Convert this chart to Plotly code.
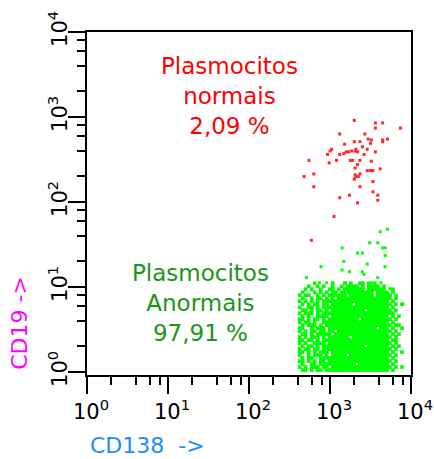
import plotly.graph_objects as go

# ---------------- data (log10 fluorescence) ----------------
# Normal plasma cells (red), CD138 vs CD19, as log10 intensities
red_cd138_log = [3.30, 3.56, 3.65, 3.56, 3.87, 3.12, 3.43, 3.47, 3.51, 3.18, 3.30, 3.37,
                 3.65, 3.71, 3.65, 3.50, 3.02, 3.00, 2.97, 3.20, 3.23, 3.31, 3.34, 3.46,
                 3.42, 3.12, 3.56, 2.74, 3.08, 3.25, 3.28, 3.37, 3.51, 2.99, 3.34, 3.31,
                 3.46, 3.53, 3.62, 2.80, 2.68, 3.37, 3.32, 3.35, 3.30, 3.53, 2.80, 3.37,
                 3.53, 3.59, 3.24, 3.12, 3.59, 3.34, 3.05, 2.77, 3.27, 3.32, 3.17, 3.40,
                 3.50, 3.31]
red_cd19_log = [2.96, 2.93, 2.93, 2.87, 2.87, 2.80, 2.80, 2.74, 2.73, 2.68, 2.71, 2.71,
                2.73, 2.74, 2.71, 2.69, 2.62, 2.60, 2.56, 2.59, 2.59, 2.60, 2.59, 2.62,
                2.56, 2.56, 2.59, 2.49, 2.49, 2.49, 2.49, 2.49, 2.48, 2.46, 2.44, 2.40,
                2.37, 2.37, 2.39, 2.33, 2.30, 2.33, 2.30, 2.30, 2.27, 2.24, 2.18, 2.18,
                2.12, 2.08, 2.08, 2.05, 2.02, 1.99, 1.83, 1.55, 2.60, 2.62, 2.57, 2.65,
                2.37, 2.32]

# Abnormal plasma cells (green): sparse events above the dense cloud
green_out_cd138_log = [3.71, 3.62, 3.49, 3.59, 3.15, 3.65, 3.68, 3.34, 3.40, 3.68, 2.89,
                       3.17, 3.46, 3.68, 3.15, 3.24, 3.40, 3.42, 2.71, 3.59, 2.87, 2.96,
                       3.19, 3.51, 3.63, 3.74, 3.90]
green_out_cd19_log = [1.68, 1.65, 1.52, 1.52, 1.46, 1.46, 1.46, 1.40, 1.40, 1.37, 1.24,
                      1.30, 1.27, 1.24, 1.20, 1.18, 1.18, 1.15, 1.11, 1.11, 1.05, 1.05,
                      1.05, 1.05, 1.05, 0.98, 0.80]

# Dense green cloud, read as an occupancy map: columns = CD138 bins, rows = CD19 bins
green_bin_cd138_log = [2.625, 2.662, 2.699, 2.737, 2.774, 2.811, 2.848, 2.885, 2.922,
                       2.960, 2.997, 3.034, 3.071, 3.108, 3.146, 3.183, 3.220, 3.257,
                       3.294, 3.331, 3.368, 3.406, 3.443, 3.480, 3.517, 3.554, 3.591,
                       3.628, 3.666, 3.703, 3.740, 3.777, 3.814, 3.851, 3.889]
green_bin_cd19_log = [0.023, 0.059, 0.094, 0.129, 0.164, 0.199, 0.235, 0.270, 0.305,
                      0.340, 0.375, 0.411, 0.446, 0.481, 0.516, 0.551, 0.586, 0.622,
                      0.657, 0.692, 0.727, 0.762, 0.798, 0.833, 0.868, 0.903, 0.938,
                      0.974, 1.009, 1.044]
green_rows = [  # bottom row first
    ".##.#.##.###" + "##################" + ".#...",
    "#.#.###.##.#" + "##################" + "#.#.#",
    ".#..##.#####" + "#######.##########" + ".#...",
    "##.#.#.##.##" + "##################" + "#.#..",
    ".#.##..#####" + "##################" + ".#...",
    "#..#.###.#.#" + "####.#############" + "#.#..",
    "##.#.#.###.#" + "##################" + ".#..#",
    "#.##.##.####" + "##################" + "#.#..",
    ".#.##.#.####" + "##########.#######" + ".#.#.",
    "#.#..####.##" + "##################" + "#.#..",
    "##.##.#.####" + "##################" + ".##..",
    "#.#.###.#.##" + "#####.############" + "#.#..",
    ".##.#.#####." + "##################" + ".#.#.",
    "#.#.##.##.##" + ".#################" + "#.#..",
    "##..#.###.##" + "##############.###" + ".#..#",
    ".#.###.#.###" + "##################" + "#.##.",
    "#.##.#..####" + "##################" + ".#...",
    "##.#.##.#.##" + "########.#########" + "#.#..",
    ".#.#..####.#" + "##################" + ".#.#.",
    "#.###.#.####" + "##################" + "##...",
    ".##.#.##.#.#" + "##########.#######" + "#.#..",
    "#..##.#.####" + "##################" + ".#...",
    ".#.#.##.##.#" + "######.###########" + "#.#.#",
    "#.#.#.#.####" + "##################" + ".#...",
    ".#..#.##.#.#" + ".#################" + "#.#..",
    "#.##..#.#.##" + "####.########.####" + "#.#..",
    ".#...#.#.#.#" + "#.###########.####" + ".#...",
    "..#.#..#..##" + ".#.#######.######." + ".#...",
    "...#..#.#..#" + "..#.####.#.####.#." + ".....",
    ".....#.....#" + "...#.#..##.#.#...." + ".....",
]

x_tick_vals = [1, 10, 100, 1000, 10000]
x_tick_text = ["10<sup>0</sup>", "10<sup>1</sup>", "10<sup>2</sup>", "10<sup>3</sup>", "10<sup>4</sup>"]
y_tick_vals = [1, 10, 100, 1000, 10000]
y_tick_text = ["10<sup>0</sup>", "10<sup>1</sup>", "10<sup>2</sup>", "10<sup>3</sup>", "10<sup>4</sup>"]
minor_vals = [m * d for d in (1, 10, 100, 1000) for m in (2, 4, 6, 8)]

# ---------------- build traces ----------------
core_x, core_y = [], []
for r, row in enumerate(green_rows):
    for c, ch in enumerate(row):
        if ch == "#" and c < len(green_bin_cd138_log):
            core_x.append(10 ** green_bin_cd138_log[c])
            core_y.append(10 ** green_bin_cd19_log[r])

FONT = "DejaVu Sans"
fig = go.Figure()
fig.add_trace(go.Scatter(
    x=core_x, y=core_y, mode="markers",
    marker=dict(symbol="square", size=3.7, color="#00FF00", line=dict(width=0)),
    hoverinfo="skip", showlegend=False))
fig.add_trace(go.Scatter(
    x=[10 ** v for v in green_out_cd138_log], y=[10 ** v for v in green_out_cd19_log],
    mode="markers",
    marker=dict(symbol="square", size=3, color="#00FF00", line=dict(width=0)),
    showlegend=False))
fig.add_trace(go.Scatter(
    x=[10 ** v for v in red_cd138_log], y=[10 ** v for v in red_cd19_log],
    mode="markers",
    marker=dict(symbol="square", size=3, color="#FF2828", line=dict(width=0)),
    showlegend=False))

axis_common = dict(
    type="log", showgrid=False, zeroline=False, automargin=False,
    showline=True, linewidth=2, linecolor="black", mirror=True,
    ticks="outside", ticklen=17, tickwidth=2, tickcolor="black",
    minor=dict(tickvals=minor_vals, ticks="outside", ticklen=8, tickwidth=2, tickcolor="black"),
)

fig.update_layout(
    width=434, height=459,
    margin=dict(l=87, r=23, t=32, b=84),
    paper_bgcolor="white", plot_bgcolor="white",
    font=dict(family=FONT, color="black"),
    xaxis=dict(range=[0, 4], tickmode="array", tickvals=x_tick_vals, ticktext=x_tick_text,
               tickfont=dict(family=FONT, size=21, color="black"), ticklabelshift=4,
               **axis_common),
    yaxis=dict(range=[-0.035, 4], tickmode="array", tickvals=y_tick_vals, ticktext=y_tick_text,
               tickangle=-90, tickfont=dict(family=FONT, size=21, color="black"),
               ticklabelstandoff=-7,
               **axis_common),
    annotations=[
        dict(text="Plasmocitos<br>normais<br>2,09 %", xref="paper", yref="paper",
             x=0.44, y=0.813, xanchor="center", yanchor="middle", showarrow=False,
             font=dict(family=FONT, size=23, color="#FF0000")),
        dict(text="Plasmocitos<br>Anormais<br>97,91 %", xref="paper", yref="paper",
             x=0.349, y=0.2085, xanchor="center", yanchor="middle", showarrow=False,
             font=dict(family=FONT, size=23, color="#1A961A")),
        dict(text="CD138  ->", xref="paper", yref="paper", x=0.187, y=-0.2055,
             xanchor="center", yanchor="middle", showarrow=False,
             font=dict(family=FONT, size=22, color="#1E8CFF")),
        dict(text="CD19 ->", xref="paper", yref="paper", x=-0.207, y=0.152,
             xanchor="center", yanchor="middle", showarrow=False, textangle=-90,
             font=dict(family=FONT, size=22, color="#FF00FF")),
    ],
)

fig.write_html("out.html")
